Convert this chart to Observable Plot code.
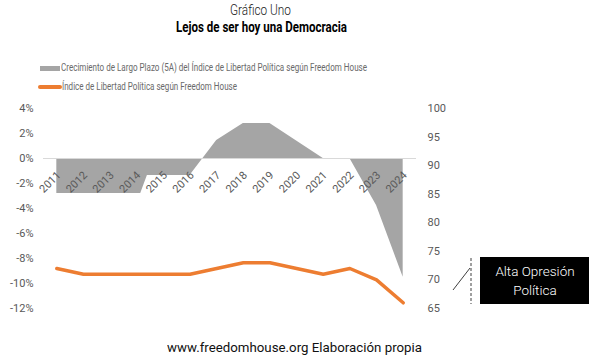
<!DOCTYPE html>
<html>
<head>
<meta charset="utf-8">
<script src="https://cdn.jsdelivr.net/npm/d3@7"></script>
<script src="https://cdn.jsdelivr.net/npm/@observablehq/plot@0.6"></script>
<style>
  html, body { margin: 0; padding: 0; background: #fff; }
  #wrap { position: relative; width: 589px; height: 357px; overflow: hidden; font-family: Roboto, "Open Sans", sans-serif; }
  .fit { position: absolute; white-space: nowrap; transform-origin: left center; line-height: 1; }
  #chart { position: absolute; left: 0; top: 98px; }
  #box { position: absolute; left: 480px; top: 257px; width: 110px; height: 47px; background: #000; color: #fff;
         font-size: 13.5px; font-weight: 300; line-height: 19px; text-align: center; display: flex; flex-direction: column; justify-content: center; }
</style>
</head>
<body>
<div id="wrap">
  <div class="fit" data-w="61" style="left:230px; top:3px; font-size:14px; font-weight:300; color:#1a1a1a;">Gráfico Uno</div>
  <div class="fit" data-w="171" style="left:176px; top:20px; font-size:14px; font-weight:700; color:#000;">Lejos de ser hoy una Democracia</div>

  <div style="position:absolute; left:40px; top:66px; width:20px; height:5px; background:#a5a5a5;"></div>
  <div class="fit" data-w="306" style="left:61px; top:63px; font-size:10.5px; color:#6a6a6a;">Crecimiento de Largo Plazo (5A) del Índice de Libertad Política según Freedom House</div>
  <div style="position:absolute; left:38px; top:85px; width:24px; height:3.5px; background:#ed7d31; border-radius:2px;"></div>
  <div class="fit" data-w="175" style="left:62px; top:82px; font-size:10.5px; color:#6a6a6a;">Índice de Libertad Política según Freedom House</div>

  <div id="chart"></div>

  <svg style="position:absolute; left:0; top:0;" width="589" height="357">
    <line x1="471" y1="258" x2="471" y2="304" stroke="#404040" stroke-width="1" stroke-dasharray="3,2"/>
    <line x1="453" y1="290" x2="470" y2="268" stroke="#404040" stroke-width="1"/>
  </svg>
  <div id="box"><div>Alta Opresión</div><div>Política</div></div>

  <div class="fit" data-w="255" style="left:167px; top:341px; font-size:13px; color:#111;">www.freedomhouse.org Elaboración propia</div>
</div>
<script>
// Category labels
const years = [2011, 2012, 2013, 2014, 2015, 2016, 2017, 2018, 2019, 2020, 2021, 2022, 2023, 2024];

// Grey area: 5-year growth of the index (%)
const growthYears  = [2011, 2012, 2013, 2014, 2014.15, 2014.4, 2015, 2016, 2017, 2018, 2019, 2020, 2021, 2022, 2023, 2024];
const growthValues = [-2.8, -2.8, -2.8, -2.8, -2.8,    -1.35,  -1.35, -1.35, 1.44, 2.8, 2.8, 1.4, 0, 0, -3.76, -9.5];

// Orange line: political freedom index (right axis)
const indexValues = [72, 71, 71, 71, 71, 71, 72, 73, 73, 72, 71, 72, 70, 66];

// Tick labels
const leftTicks  = [4, 2, 0, -2, -4, -6, -8, -10, -12];
const rightTicks = [100, 95, 90, 85, 80, 75, 70, 65];

// Right axis [65,100] mapped onto the left axis [-12,4]
const rMin = 65, rMax = 100, lMin = -12, lMax = 4;
const toLeft = v => lMin + (v - rMin) * (lMax - lMin) / (rMax - rMin);
const toRight = v => rMin + (v - lMin) * (rMax - rMin) / (lMax - lMin);

const growth = growthYears.map((y, i) => ({year: y, value: growthValues[i]}));
const index = years.map((y, i) => ({year: y, value: indexValues[i]}));

const chart = Plot.plot({
  width: 589,
  height: 225,
  marginTop: 10,
  marginBottom: 15,
  marginLeft: 43,
  marginRight: 173,
  style: {fontFamily: "Roboto, sans-serif", fontSize: "11px", color: "#595959", background: "transparent"},
  x: {type: "linear", domain: [2010.5, 2024.5], axis: null},
  y: {domain: [lMin, lMax], axis: null},
  marks: [
    Plot.areaY(growth, {x: "year", y: "value", fill: "#a5a5a5"}),
    Plot.ruleY([0], {stroke: "#d9d9d9", strokeWidth: 1}),
    Plot.line(index, {x: "year", y: d => toLeft(d.value), stroke: "#ed7d31", strokeWidth: 3.5, strokeLinejoin: "round", strokeLinecap: "round"}),
    Plot.text(years, {x: d => d, y: 0, text: d => String(d), rotate: -45, textAnchor: "end", lineAnchor: "middle",
                      dx: 2, dy: 15, fill: "#595959", fontSize: 11}),
    Plot.axisY(leftTicks, {anchor: "left", tickSize: 0, tickPadding: 10, tickFormat: d => d + "%", label: null, fill: "#595959"}),
    Plot.axisY(rightTicks.map(toLeft), {anchor: "right", tickSize: 0, tickPadding: 11, tickFormat: d => String(Math.round(toRight(d))), label: null, fill: "#595959"})
  ]
});
document.getElementById("chart").appendChild(chart);

// condense text blocks to the widths seen in the reference
document.querySelectorAll(".fit").forEach(el => {
  const w = el.getBoundingClientRect().width;
  const target = +el.dataset.w;
  if (w > 0) el.style.transform = `scaleX(${target / w})`;
});
</script>
</body>
</html>
